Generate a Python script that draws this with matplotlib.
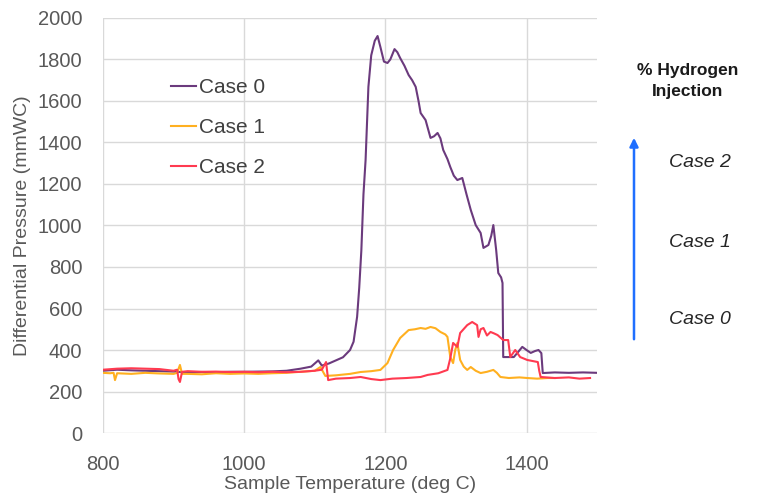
import matplotlib
matplotlib.use("Agg")
import matplotlib.pyplot as plt

plt.rcParams['font.family'] = ['Liberation Sans', 'DejaVu Sans']

# Case 0 (purple)
t0 = [800, 820, 840, 860, 880, 900, 920, 940, 960, 980, 1000, 1020, 1040, 1060, 1080,
      1095, 1105, 1110, 1120, 1130, 1140, 1150, 1155, 1160, 1163, 1166, 1169, 1172, 1176,
      1180, 1185, 1189, 1193, 1198, 1203, 1207, 1213, 1217, 1221, 1227, 1233, 1238, 1243,
      1247, 1250, 1257, 1264, 1269, 1274, 1278, 1282, 1288, 1292, 1297, 1302, 1309, 1315,
      1321, 1328, 1335, 1339, 1346, 1350, 1353, 1357, 1360, 1364, 1366, 1367, 1375, 1382,
      1388, 1394, 1400, 1406, 1412, 1417, 1421, 1423, 1440, 1460, 1480, 1500]
p0 = [300, 305, 302, 300, 298, 296, 292, 294, 293, 295, 295, 296, 297, 300, 310,
      320, 350, 325, 335, 350, 365, 400, 440, 560, 700, 880, 1150, 1315, 1668,
      1820, 1890, 1913, 1860, 1790, 1783, 1800, 1850, 1835, 1807, 1770, 1725, 1700, 1668,
      1600, 1542, 1508, 1422, 1430, 1446, 1420, 1364, 1320, 1282, 1240, 1219, 1229, 1150,
      1075, 1002, 964, 892, 906, 950, 1002, 882, 771, 750, 723, 366, 366, 366,
      390, 415, 400, 386, 395, 400, 385, 289, 292, 290, 292, 290]

# Case 1 (orange)
t1 = [800, 810, 815, 817, 820, 840, 860, 880, 900, 905, 909, 912, 920, 940, 960, 980,
      1000, 1020, 1040, 1060, 1080, 1100, 1108, 1115, 1130, 1150, 1165, 1180, 1193, 1203,
      1211, 1221, 1233, 1242, 1250, 1257, 1264, 1271, 1278, 1285, 1288, 1292, 1296, 1299,
      1302, 1306, 1311, 1316, 1321, 1328, 1335, 1344, 1353, 1358, 1363, 1375, 1390, 1401,
      1415, 1430, 1440]
p1 = [290, 288, 290, 255, 288, 285, 290, 287, 285, 290, 328, 285, 285, 283, 288, 285,
      287, 285, 288, 290, 295, 300, 318, 275, 278, 285, 294, 298, 304, 337,
      400, 458, 496, 500, 506, 502, 511, 505, 487, 475, 463, 366, 337, 400,
      434, 352, 320, 304, 318, 300, 289, 295, 304, 290, 270, 265, 268, 265,
      262, 265, 265]

# Case 2 (red)
t2 = [800, 820, 840, 860, 880, 900, 905, 907, 909, 912, 920, 940, 960, 980, 1000, 1020,
      1040, 1060, 1080, 1100, 1110, 1116, 1119, 1130, 1150, 1165, 1180, 1193, 1210, 1230,
      1250, 1260, 1275, 1288, 1292, 1296, 1302, 1306, 1316, 1323, 1330, 1332, 1335, 1339,
      1344, 1349, 1354, 1359, 1367, 1374, 1377, 1384, 1391, 1401, 1416, 1418, 1420, 1440,
      1460, 1475, 1490]
p2 = [305, 310, 312, 310, 308, 300, 305, 260, 246, 295, 298, 295, 296, 294, 295, 293,
      295, 293, 295, 300, 305, 342, 255, 262, 265, 270, 260, 255, 262, 265,
      270, 280, 288, 304, 360, 434, 415, 482, 520, 535, 520, 463, 500, 506,
      470, 487, 480, 472, 448, 448, 366, 400, 366, 352, 342, 300, 270, 265,
      268, 262, 265]

labels = ['Case 0', 'Case 1', 'Case 2']
colors = ['#6b3a7d', '#ffb020', '#ff3a50']

fig = plt.figure(figsize=(7.59, 4.98), dpi=100)
ax = fig.add_axes([0.1357, 0.1305, 0.651, 0.8334])

for t, p, lab, c in zip([t0, t1, t2], [p0, p1, p2], labels, colors):
    ax.plot(t, p, color=c, lw=1.5, label=lab)

ax.set_xlim(800, 1500)
ax.set_ylim(0, 2000)
ax.set_xticks([800, 1000, 1200, 1400])
ax.set_yticks(range(0, 2001, 200))
ax.grid(True, color='#d9d9d9', lw=1)
ax.set_axisbelow(True)
for s in ax.spines.values():
    s.set_visible(False)
ax.tick_params(length=0, labelsize=14.5, colors='#595959')
ax.tick_params(axis='y', pad=15)
ax.tick_params(axis='x', pad=16)
ax.set_xlabel('Sample Temperature (deg C)', fontsize=14, color='#595959', labelpad=1)
ax.set_ylabel('Differential Pressure (mmWC)', fontsize=14, color='#595959', labelpad=5)

leg = ax.legend(loc='upper left', bbox_to_anchor=(0.1, 0.9), frameon=False,
                fontsize=15, labelspacing=1.0, handlelength=1.2, handletextpad=0.15)
for txt in leg.get_texts():
    txt.set_color('#404040')

# right-side annotation
fig.text(688 / 759, 1 - 81 / 498, '% Hydrogen\nInjection', ha='center', va='center',
         fontsize=12.5, fontweight='bold', color='#1a1a1a', linespacing=1.55)
for lab, y in zip(['Case 2', 'Case 1', 'Case 0'], [162, 242, 320]):
    fig.text(700 / 759, 1 - y / 498, lab, ha='center', va='center', fontsize=14,
             style='italic', color='#262626')
fig.add_artist(matplotlib.patches.FancyArrowPatch(
    (634 / 759, 1 - 342 / 498), (634 / 759, 1 - 135 / 498), transform=fig.transFigure,
    arrowstyle='-|>,head_length=5,head_width=2.5', color='#1f6fff', lw=1.8))

fig.savefig('out.png', dpi=100)
